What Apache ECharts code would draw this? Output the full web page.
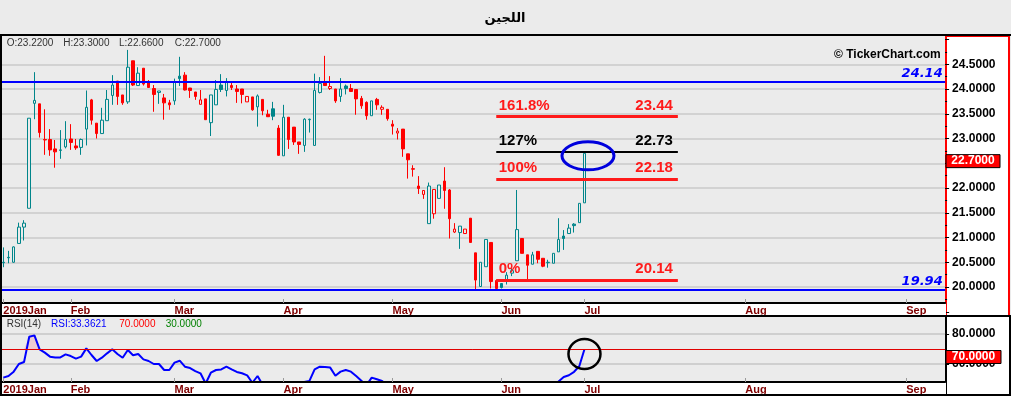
<!DOCTYPE html>
<html><head><meta charset="utf-8">
<script src="https://cdn.jsdelivr.net/npm/echarts@6/dist/echarts.min.js"></script>
<style>html,body{margin:0;padding:0;background:#ebebeb;}#c{width:1011px;height:396px;}</style>
</head><body><div id="c"></div>
<script>
const chartTitle = 'اللجين';
const monthLabels = ['2019Jan','Feb','Mar','Apr','May','Jun','Jul','Aug','Sep'];
const monthSlots  = [13,20,21,21,21,16,31,31,8];

const open = [
20.50,20.60,20.50,20.88,21.21,21.59,23.71,23.70,22.98,22.98,
22.79,22.76,22.83,22.99,22.85,22.82,23.19,23.78,23.31,23.10,
23.36,23.87,24.16,23.88,23.74,24.57,24.07,24.42,24.13,24.01,
23.93,23.82,23.72,23.76,24.26,24.28,24.02,23.94,23.69,23.80,
23.32,23.68,24.08,23.97,24.07,24.00,24.00,23.74,23.84,23.64,
23.79,23.49,23.60,23.21,22.65,23.43,23.23,22.93,22.86,23.38,
22.86,23.93,24.12,24.01,24.00,23.85,24.06,24.01,23.99,23.81,
23.73,23.46,23.79,23.59,23.59,23.29,23.11,23.19,22.69,22.39,
22.04,21.87,21.28,21.48,21.79,22.14,21.96,21.11,21.10,21.08,
21.39,20.69,20.01,20.41,20.90,20.13,20.07,20.14,20.28,20.53,
20.98,20.65,20.46,20.72,20.58,20.49,20.48,20.71,21.03,21.08,
21.27,21.30,21.70];
const high = [
20.80,20.73,20.82,21.30,21.35,23.41,24.34,23.70,23.59,23.19,
22.97,23.17,23.35,23.29,22.99,23.00,23.97,23.80,23.31,23.62,
23.98,24.28,24.16,23.88,24.79,24.57,24.44,24.42,24.18,24.08,
23.96,23.90,23.78,24.21,24.65,24.34,24.02,23.94,23.98,23.80,
23.88,24.18,24.30,24.22,24.13,24.08,24.00,23.85,23.84,23.89,
23.79,23.58,23.74,23.27,23.68,23.43,23.23,22.93,23.41,23.40,
24.31,24.24,24.67,24.26,24.00,24.22,24.09,24.10,23.99,23.86,
23.75,23.76,23.82,23.67,23.59,23.37,23.21,23.19,22.69,22.46,
22.24,21.95,22.11,21.97,22.06,22.42,21.98,21.29,21.23,21.17,
21.39,20.69,20.50,20.96,20.90,20.15,20.08,20.30,20.38,21.96,
20.98,20.65,20.71,20.72,20.58,20.55,20.68,21.39,21.15,21.27,
21.29,21.69,22.70];
const low = [
20.40,20.48,20.49,20.88,20.94,21.59,23.39,23.02,22.67,22.65,
22.41,22.59,22.80,22.77,22.77,22.67,22.86,23.28,23.00,23.10,
23.36,23.68,23.68,23.68,23.70,24.06,24.07,24.07,24.02,23.54,
23.70,23.38,23.58,23.68,24.06,23.97,23.82,23.78,23.69,23.38,
23.05,23.68,23.94,23.85,23.98,23.72,23.71,23.74,23.56,23.24,
23.47,23.44,23.37,22.65,22.65,22.79,22.87,22.69,22.73,23.12,
22.86,23.91,24.06,23.98,23.72,23.74,23.89,23.95,23.48,23.60,
23.38,23.46,23.58,23.48,23.36,23.08,22.98,22.63,22.19,22.23,
21.88,21.78,21.28,21.38,21.79,21.58,20.98,21.09,20.77,21.08,
20.90,19.94,20.01,20.41,19.97,19.95,19.97,20.05,20.22,20.53,
20.68,20.14,20.46,20.48,20.40,20.39,20.48,20.71,20.75,21.08,
21.10,21.30,21.70];
const close = [
20.49,20.59,20.81,21.21,21.29,23.41,23.77,23.12,22.97,22.77,
22.73,22.77,22.98,22.92,22.81,22.98,23.63,23.37,23.10,23.37,
23.79,24.08,23.85,23.72,24.44,24.08,24.32,24.10,24.03,23.89,
23.96,23.72,23.68,24.14,24.21,23.98,23.97,23.85,23.78,23.38,
23.88,23.99,23.99,24.15,24.03,23.95,23.89,23.85,23.58,23.86,
23.56,23.44,23.45,22.66,23.43,22.98,22.93,22.88,23.39,23.39,
23.97,24.11,24.07,24.05,23.76,24.00,24.01,23.95,23.80,23.66,
23.46,23.76,23.68,23.63,23.40,23.25,23.15,22.79,22.57,22.38,
21.99,21.95,22.04,21.97,22.06,21.95,21.38,21.17,21.23,21.17,
20.90,20.14,20.50,20.96,20.11,19.97,19.99,20.24,20.33,21.16,
20.68,20.44,20.65,20.56,20.42,20.50,20.68,20.96,20.98,21.19,
21.24,21.69,22.70];
const rsi = [
50.9,52.0,54.9,60.0,61.3,78.2,79.1,69.8,67.6,64.9,
64.4,64.4,66.4,65.3,63.6,64.9,70.4,66.0,62.0,64.2,
67.1,69.8,66.7,64.2,69.3,65.8,66.7,63.1,62.0,60.0,
60.0,56.0,56.0,60.9,62.2,58.2,57.3,55.3,53.8,47.0,
54.2,56.0,56.4,58.2,56.4,54.7,53.8,52.4,47.5,52.0,
46.0,44.5,43.0,40.5,38.0,42.0,40.0,43.5,48.0,48.7,
56.4,58.2,58.0,57.6,52.2,54.9,56.0,54.9,52.0,48.9,
46.0,50.9,49.8,48.7,46.0,45.5,43.0,42.5,39.0,36.0,
35.5,32.5,32.0,36.0,35.0,37.0,35.5,31.0,29.5,30.5,
30.0,27.5,24.0,29.0,33.0,27.0,25.0,25.5,28.0,29.5,
36.0,33.0,31.5,33.0,32.0,36.0,40.0,48.3,51.3,52.5,
54.8,58.5,69.8];

const levelPrices = [24.14, 19.94];
const fibRatios = ['0%','100%','127%','161.8%'];
const fibPrices = [20.14, 22.18, 22.73, 23.44];
const fibSpan = [95, 130];
const priceScale = [19.5, 25.0, 0.5];
const rsiScale = [40, 100, 20];
const ohlcNames = ['O','H','L','C'];
const ohlcValues = [23.22, 23.30, 22.66, 22.70];
const rsiPeriod = 14, rsiReadout = 33.3621, rsiUpper = 70, rsiLower = 30;

// ---------- build ----------
const TEAL = '#00858a', RED = '#ff0000', BG = '#ebebeb';
const categories = [];
monthLabels.forEach((m, mi) => { for (let k = 0; k < monthSlots[mi]; k++) categories.push(m + '|' + (k + 1)); });
const isMonthStart = (idx, val) => String(val).endsWith('|1');

const candleData = open.map((o, i) => {
  const c = close[i];
  const prev = i > 0 ? close[i - 1] : c;
  const col = c >= prev ? TEAL : RED;
  const fill = c >= o ? BG : col;
  return { value: [o, c, low[i], high[i]], itemStyle: { color: fill, color0: fill, borderColor: col, borderColor0: col, borderWidth: 1 } };
});

const L = 0.7, W = 944.4;
const lblFont = { color: '#000', fontWeight: 'bold', fontSize: 12, fontFamily: 'Liberation Sans' };
function dateAxis(g) {
  return { type: 'category', gridIndex: g, data: categories, boundaryGap: true, position: 'bottom', zlevel: 1, z: 10,
    axisLine: { show: true, lineStyle: { color: '#000', width: 2 } },
    axisTick: { show: true, inside: true, length: 4, alignWithLabel: true, interval: isMonthStart, lineStyle: { color: '#9a9a9a' } },
    axisLabel: { show: true, interval: isMonthStart, formatter: v => v.split('|')[0], align: 'left', margin: 2,
      color: '#800000', fontWeight: 'bold', fontSize: 11, fontFamily: 'Liberation Sans' },
    splitLine: { show: false } };
}

const fibLines = fibPrices.map((v, k) => {
  const black = fibRatios[k] === '127%';
  return [{ coord: [fibSpan[0], v], lineStyle: { color: black ? '#000' : '#ff1a1a', width: black ? 2 : 3, type: 'solid' } },
          { coord: [fibSpan[1], v] }];
});
const levelLines = levelPrices.map(v => ({ yAxis: v, lineStyle: { color: '#0000ff', width: 2, type: 'solid' } }));

const chart = echarts.init(document.getElementById('c'), null, { renderer: 'canvas', width: 1011, height: 396 });
chart.setOption({
  animation: false,
  backgroundColor: BG,
  grid: [
    { left: L, width: W, top: 39.5, height: 272.25 },
    { left: L, width: W, top: 304, height: 90 },
    { left: L, width: W, top: 290, height: 13 },
    { left: L, width: W, top: 369, height: 13 }
  ],
  xAxis: [
    { type: 'category', gridIndex: 0, data: categories, show: false, boundaryGap: true },
    { type: 'category', gridIndex: 1, data: categories, show: false, boundaryGap: true },
    dateAxis(2), dateAxis(3)
  ],
  yAxis: [
    { type: 'value', gridIndex: 0, position: 'right', min: priceScale[0], max: priceScale[1], interval: priceScale[2], z: 1,
      axisLine: { show: false },
      axisTick: { show: true, length: 4, lineStyle: { color: '#000' } },
      minorTick: { show: true, splitNumber: 2, length: 2, lineStyle: { color: '#000' } },
      splitLine: { show: true, showMinLine: false, showMaxLine: false, lineStyle: { color: '#d2d2d2', width: 2 } },
      axisLabel: Object.assign({ margin: 7, showMinLabel: false, showMaxLabel: false, formatter: v => v.toFixed(4) }, lblFont) },
    { type: 'value', gridIndex: 1, position: 'right', min: rsiScale[0], max: rsiScale[1], interval: rsiScale[2], z: 1,
      axisLine: { show: false },
      axisTick: { show: true, length: 4, lineStyle: { color: '#000' } },
      splitLine: { show: true, showMinLine: false, showMaxLine: false, lineStyle: { color: '#cfcfcf', width: 2 } },
      axisLabel: Object.assign({ margin: 7, showMinLabel: false, showMaxLabel: false, formatter: v => v.toFixed(4) }, lblFont) },
    { type: 'value', gridIndex: 2, show: false },
    { type: 'value', gridIndex: 3, show: false }
  ],
  series: [
    { type: 'candlestick', xAxisIndex: 0, yAxisIndex: 0, data: candleData, barWidth: 3,
      markLine: { silent: true, symbol: ['none', 'none'], label: { show: false }, data: levelLines.concat(fibLines) } },
    { type: 'line', xAxisIndex: 1, yAxisIndex: 1, data: rsi.map(() => rsiUpper), stack: 'ob', symbol: 'none',
      lineStyle: { opacity: 0 }, silent: true },
    { type: 'line', xAxisIndex: 1, yAxisIndex: 1, data: rsi.map(v => Math.max(v - rsiUpper, 0)), stack: 'ob', symbol: 'none',
      lineStyle: { opacity: 0 }, areaStyle: { color: 'rgba(240,150,170,0.55)' }, silent: true },
    { type: 'line', xAxisIndex: 1, yAxisIndex: 1, data: rsi, symbol: 'none', lineStyle: { color: '#0000ff', width: 2 },
      markLine: { silent: true, symbol: ['none', 'none'], label: { show: false },
        data: [{ yAxis: rsiUpper, lineStyle: { color: '#e00000', width: 1, type: 'solid' } }] } }
  ]
});

// ---------- overlays ----------
const px = (i, v) => chart.convertToPixel({ gridIndex: 0 }, [i, v]);
const pxR = (i, v) => chart.convertToPixel({ gridIndex: 1 }, [i, v]);
const txt = (x, y, text, font, fill, align) => ({ type: 'text', x, y, z: 20, silent: true,
  style: { text, font, fill, align: align || 'left', verticalAlign: 'middle' } });
const hline = (x1, y1, x2, y2, color, w) => ({ type: 'line', zlevel: 1, z: 11, silent: true, shape: { x1, y1, x2, y2 }, style: { stroke: color, lineWidth: w } });

const g = [];
g.push({ type: 'rect', z: 0, silent: true, shape: { x: 946, y: 36, width: 63, height: 280 }, style: { fill: '#fff', stroke: '#ff0000', lineWidth: 2 } });
g.push({ type: 'rect', z: 0, silent: true, shape: { x: 946, y: 316, width: 64, height: 80 }, style: { fill: '#fff', stroke: '#000', lineWidth: 2 } });
g.push({ type: 'rect', zlevel: 1, z: 3, silent: true, shape: { x: 0, y: 303, width: 946, height: 13 }, style: { fill: '#fff' } });
g.push({ type: 'rect', zlevel: 1, z: 3, silent: true, shape: { x: 0, y: 382, width: 946, height: 14 }, style: { fill: '#fff' } });
g.push(hline(0, 35, 1011, 35, '#000', 2));
g.push(hline(0, 316, 946, 316, '#000', 2));
g.push(hline(1, 35, 1, 396, '#000', 2));
g.push(hline(0, 395, 1011, 395, '#000', 2));

g.push(txt(505, 18.5, chartTitle, 'bold 13px "DejaVu Sans"', '#000', 'center'));
const ohlcX = [6.7, 63.3, 119, 174.7];
ohlcNames.forEach((n, k) => g.push(txt(ohlcX[k], 43.5, n + ':' + ohlcValues[k].toFixed(4), '10px "Liberation Sans"', '#333')));
g.push(txt(940.7, 55, '© TickerChart.com', 'bold 12px "Liberation Sans"', '#000', 'right'));

levelPrices.forEach(v => g.push(txt(942.7, px(0, v)[1] - 8.5, v.toFixed(2), 'italic bold 13px "DejaVu Sans"', '#0000ff', 'right')));

fibPrices.forEach((v, k) => {
  const col = fibRatios[k] === '127%' ? '#000' : '#ff1a1a';
  const a = px(fibSpan[0], v), b = px(fibSpan[1], v);
  g.push(txt(a[0] + 2.5, a[1] - 11, fibRatios[k], 'bold 15px "Liberation Sans"', col));
  g.push(txt(b[0] - 5, b[1] - 11, v.toFixed(2), 'bold 15px "Liberation Sans"', col, 'right'));
});

const last = close.length - 1;
const lp = px(last, close[last]);
g.push({ type: 'ellipse', z: 21, silent: true, shape: { cx: lp[0] + 3.5, cy: lp[1] + 2.5, rx: 26, ry: 14 }, style: { fill: 'none', stroke: '#0000dd', lineWidth: 3 } });
const rp = pxR(last, rsi[last]);
g.push({ type: 'ellipse', z: 21, silent: true, shape: { cx: rp[0], cy: rp[1] + 4.7, rx: 16, ry: 15 }, style: { fill: 'none', stroke: '#000', lineWidth: 2.5 } });

g.push({ type: 'rect', z: 20, silent: true, shape: { x: 946, y: lp[1] + 1.3, width: 54, height: 13 }, style: { fill: '#ff0000', stroke: '#000', lineWidth: 1 } });
g.push(txt(973, lp[1] + 7.8, close[last].toFixed(4), 'bold 12px "Liberation Sans"', '#fff', 'center'));
const up = pxR(0, rsiUpper);
g.push({ type: 'rect', z: 20, silent: true, shape: { x: 946, y: up[1] + 1.5, width: 55, height: 13 }, style: { fill: '#ff0000', stroke: '#000', lineWidth: 1 } });
g.push(txt(973.5, up[1] + 8, rsiUpper.toFixed(4), 'bold 12px "Liberation Sans"', '#fff', 'center'));

g.push(txt(6.7, 324, 'RSI(' + rsiPeriod + ')', '10px "Liberation Sans"', '#333'));
g.push(txt(51, 324, 'RSI:' + rsiReadout.toFixed(4), '10px "Liberation Sans"', '#0000ff'));
g.push(txt(119.3, 324, rsiUpper.toFixed(4), '10px "Liberation Sans"', '#ff0000'));
g.push(txt(165.7, 324, rsiLower.toFixed(4), '10px "Liberation Sans"', '#008000'));

chart.setOption({ graphic: g });
</script></body></html>
